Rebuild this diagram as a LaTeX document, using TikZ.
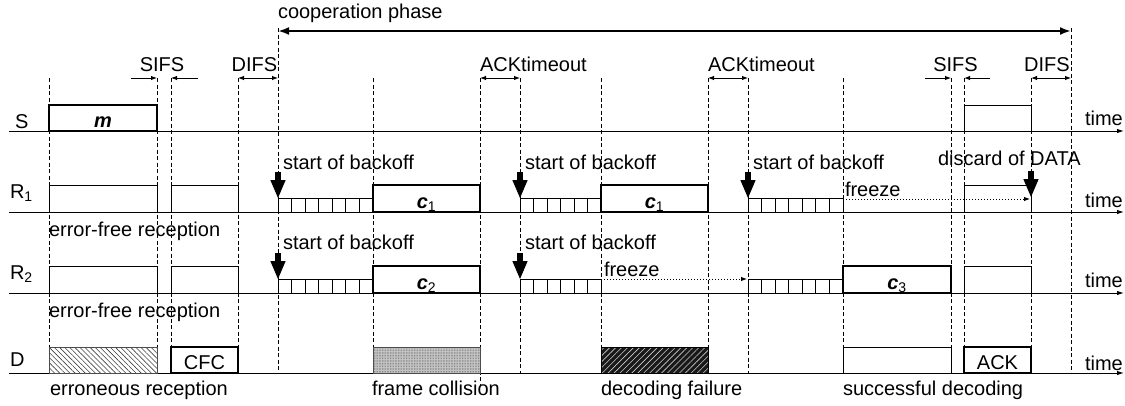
\documentclass[tikz,border=0pt]{standalone}
\usepackage{fontspec}
\setmainfont{Liberation Sans}
\usetikzlibrary{arrows.meta,patterns,patterns.meta}
\begin{document}
\begin{tikzpicture}[x=1pt,y=-1pt,
  every node/.style={inner sep=0pt, outer sep=0pt, font=\fontsize{20}{24}\selectfont},
  axisline/.style={line width=1pt, -{Latex[length=7pt,width=4.5pt]}},
  guide/.style={line width=0.9pt, dash pattern=on 4pt off 2.5pt},
  thinbox/.style={draw, line width=1pt},
  thickbox/.style={draw, line width=2.6pt},
  ivboth/.style={line width=1pt, {Latex[length=6pt,width=4.5pt]}-{Latex[length=6pt,width=4.5pt]}},
  ivone/.style={line width=1pt, -{Latex[length=6pt,width=4.5pt]}},
  frz/.style={line width=1pt, dotted, -{Latex[length=6pt,width=4.5pt]}},
  coop/.style={line width=2.5pt, {Latex[length=11pt,width=8pt]}-{Latex[length=11pt,width=8pt]}},
  slotline/.style={line width=0.9pt},
  bigdown/.pic={\fill (-2.8,-26) rectangle (2.8,-17);
                \fill (-7.7,-18) -- (7.7,-18) -- (0,0) -- cycle;}
]
\useasboundingbox (0,0) rectangle (1125,405);

% dashed guide lines
\foreach \x in {49,157,171,238,373,520,601,708,748,843,951,964,1031}
  \draw[guide] (\x,78) -- (\x,373);
\draw[guide] (480,78) -- (480,386);
\draw[guide] (278,28) -- (278,373);
\draw[guide] (1071,28) -- (1071,373);

% time axes
\foreach \y in {131,212,293,373}
  \draw[axisline] (9,\y) -- (1124,\y);

% cooperation phase
\coordinate (cpA) at (278,31);
\coordinate (cpB) at (1071,31);
\draw[coop] (cpA) -- (cpB);
\node[anchor=base west] (coopl) at (278,18) {cooperation phase};

% interval arrows
\draw[ivone] (131,78) -- (157,78);
\draw[ivone] (198,78) -- (171,78);
\draw[ivboth] (238,78) -- (278,78);
\draw[ivboth] (480,78) -- (520,78);
\draw[ivboth] (708,78) -- (748,78);
\draw[ivone] (925,78) -- (951,78);
\draw[ivone] (990,78) -- (964,78);
\draw[ivboth] (1031,78) -- (1071,78);
\node[anchor=base] (sifsA) at (162,71) {SIFS};
\node[anchor=base] (difsA) at (254.5,71) {DIFS};
\node[anchor=base west] (ackA) at (480,71) {ACKtimeout};
\node[anchor=base west] (ackB) at (708,71) {ACKtimeout};
\node[anchor=base] (sifsB) at (955.5,71) {SIFS};
\node[anchor=base] (difsB) at (1047,71) {DIFS};

% row labels
\node[anchor=base west] (rowS) at (15,128) {S};
\node[anchor=base west] (rowR1) at (10,198) {R\textsubscript{1}};
\node[anchor=base west] (rowR2) at (10,279) {R\textsubscript{2}};
\node[anchor=base west] (rowD) at (10,366) {D};
\foreach \y/\n in {125/tS,207/tR1,287/tR2,370/tD}
  \node[anchor=base west] (\n) at (1085,\y) {time};

% ---- S row
\draw[thickbox, fill=white] (49,105) rectangle (157,131);
\node[anchor=base] (mlab) at (103,127) {\textbf{\textit{m}}};
\draw[thinbox, fill=white] (964,105) rectangle (1031,131);

% ---- R1 row
\draw[thinbox, fill=white] (49,185) rectangle (157,212);
\draw[thinbox, fill=white] (171,185) rectangle (238,212);
\draw[thickbox, fill=white] (373,185) rectangle (480,212);
\draw[thickbox, fill=white] (601,185) rectangle (708,212);
\draw[thinbox, fill=white] (964,185) rectangle (1031,212);
\node[anchor=base] (c1a) at (426.5,208) {\textbf{\textit{c}}\textsubscript{1}};
\node[anchor=base] (c1b) at (654.5,208) {\textbf{\textit{c}}\textsubscript{1}};

% ---- R2 row
\draw[thinbox, fill=white] (49,266) rectangle (157,293);
\draw[thinbox, fill=white] (171,266) rectangle (238,293);
\draw[thickbox, fill=white] (373,266) rectangle (480,293);
\draw[thickbox, fill=white] (843,266) rectangle (951,293);
\draw[thinbox, fill=white] (964,266) rectangle (1031,293);
\node[anchor=base] (c2) at (426.5,289) {\textbf{\textit{c}}\textsubscript{2}};
\node[anchor=base] (c3) at (897,289) {\textbf{\textit{c}}\textsubscript{3}};

% backoff slots
\foreach \a/\b/\n/\y in {278/373/7/212, 520/601/6/212, 748/843/7/212,
                         278/373/7/293, 520/601/6/293, 748/843/7/293} {
  \draw[slotline] (\a,\y) rectangle (\b,\y-14);
  \pgfmathsetmacro\w{(\b-\a)/\n}
  \pgfmathtruncatemacro\m{\n-1}
  \foreach \k in {1,...,\m}
    \draw[slotline] ({\a+\k*\w},\y) -- ({\a+\k*\w},\y-14);
}

% freeze arrows
\coordinate (fzA1) at (843,199);
\coordinate (fzA2) at (1030,199);
\draw[frz] (fzA1) -- (fzA2);
\node[anchor=base west] (fzlA) at (845,196) {freeze};
\coordinate (fzB1) at (601,279);
\coordinate (fzB2) at (747,279);
\draw[frz] (fzB1) -- (fzB2);
\node[anchor=base west] (fzlB) at (604,276) {freeze};

% start of backoff markers
\pic at (278,198) {bigdown};
\pic at (520,198) {bigdown};
\pic at (748,198) {bigdown};
\pic at (1031,197) {bigdown};
\pic at (278,279) {bigdown};
\pic at (520,279) {bigdown};
\node[anchor=base west] (sb1) at (283,169) {start of backoff};
\node[anchor=base west] (sb2) at (525,169) {start of backoff};
\node[anchor=base west] (sb3) at (753,169) {start of backoff};
\node[anchor=base west] (disc) at (938,165) {discard of DATA};
\node[anchor=base west] (sb4) at (283,249) {start of backoff};
\node[anchor=base west] (sb5) at (525,249) {start of backoff};

\node[anchor=base west] (efr1) at (49,236) {error-free reception};
\node[anchor=base west] (efr2) at (49,317) {error-free reception};

% ---- D row
\fill[pattern={Lines[angle=-45,distance=3.6pt,line width=0.6pt]}, pattern color=black!75] (49,347) rectangle (157,373);
\draw[line width=0.8pt, black!70] (49,347) rectangle (157,373);
\draw[thickbox, fill=white] (171,347) rectangle (238,373);
\node[anchor=base] (cfc) at (204.5,369) {CFC};
\fill[black!22] (373,347) rectangle (480,373);
\fill[pattern={Dots[distance=1.6pt,radius=0.35pt]}, pattern color=black!70] (373,347) rectangle (480,373);
\draw[line width=0.8pt, black!70] (373,347) rectangle (480,373);
\fill[black!90] (601,347) rectangle (708,373);
\fill[pattern={Lines[angle=45,distance=4.2pt,line width=0.6pt]}, pattern color=white!80!black] (601,347) rectangle (708,373);
\draw[line width=0.8pt] (601,347) rectangle (708,373);
\draw[thinbox] (843,347) rectangle (951,373);
\draw[thickbox, fill=white] (964,347) rectangle (1031,373);
\node[anchor=base] (ack) at (997.5,369) {ACK};

\node[anchor=base west] (errr) at (50,395) {erroneous reception};
\node[anchor=base west] (fcol) at (372,395) {frame collision};
\node[anchor=base west] (dfail) at (601,395) {decoding failure};
\node[anchor=base west] (sdec) at (843,395) {successful decoding};
\end{tikzpicture}
\end{document}
